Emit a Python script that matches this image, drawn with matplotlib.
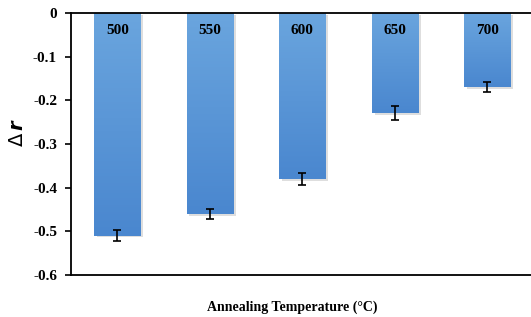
import numpy as np
import matplotlib
matplotlib.use("Agg")
import matplotlib.pyplot as plt
from matplotlib.colors import LinearSegmentedColormap

# 数据
temps = ["500", "550", "600", "650", "700"]
delta_r = [-0.51, -0.46, -0.38, -0.23, -0.17]
errors = [0.013, 0.011, 0.013, 0.016, 0.012]

plt.rcParams["font.family"] = ["Liberation Serif", "DejaVu Serif"]

fig = plt.figure(figsize=(5.31, 3.17), dpi=100)
ax = fig.add_axes([71 / 531, 1 - 275 / 317, 460 / 531, 262 / 317])

x = np.arange(len(temps))
bars = ax.bar(x, delta_r, width=0.5, color="#5b9bd5", edgecolor="none", zorder=2)

# 渐变填充 (上浅下深)
cmap = LinearSegmentedColormap.from_list("bar_grad", ["#4a87cf", "#6aa5de"])
grad = np.linspace(0, 1, 100).reshape(-1, 1)
for b in bars:
    x0, y0 = b.get_x(), b.get_y()
    w, h = b.get_width(), b.get_height()
    im = ax.imshow(grad, cmap=cmap, aspect="auto", origin="lower",
                   extent=[x0, x0 + w, y0 + h, y0], zorder=2)
    im.set_clip_path(b)
    # 阴影
    ax.bar(x0 + w / 2 + 0.03, h, width=w, bottom=y0 - 0.004, color="#bfbfbf",
           alpha=0.5, edgecolor="none", zorder=1)

ax.errorbar(x, delta_r, yerr=errors, fmt="none", ecolor="black",
            elinewidth=1.2, capsize=3, capthick=1.2, zorder=3)

for xi, t in zip(x, temps):
    ax.text(xi, -0.04, t, ha="center", va="center", fontsize=11,
            fontweight="bold", color="black", zorder=4)

ax.set_xlim(-0.5, 4.47)
ax.set_ylim(-0.6, 0)
ax.set_yticks(np.arange(-0.6, 0.01, 0.1))
ax.set_yticklabels(["-0.6", "-0.5", "-0.4", "-0.3", "-0.2", "-0.1", "0"])
ax.set_xticks([])
ax.tick_params(axis="y", direction="out", length=4, width=1.2, labelsize=11, pad=6)
for lab in ax.get_yticklabels():
    lab.set_fontweight("bold")

ax.spines["right"].set_visible(False)
for s in ["left", "top", "bottom"]:
    ax.spines[s].set_linewidth(1.3)
    ax.spines[s].set_color("black")

fig.text(18 / 531, 1 - 132 / 317, r"$\Delta\,\boldsymbol{r}$", rotation=90,
         ha="center", va="center", fontsize=14, fontweight="bold")
fig.text(292 / 531, 1 - 307 / 317, "Annealing Temperature (°C)",
         ha="center", va="center", fontsize=10, fontweight="bold")

plt.savefig("out.png", dpi=100)
plt.close()
